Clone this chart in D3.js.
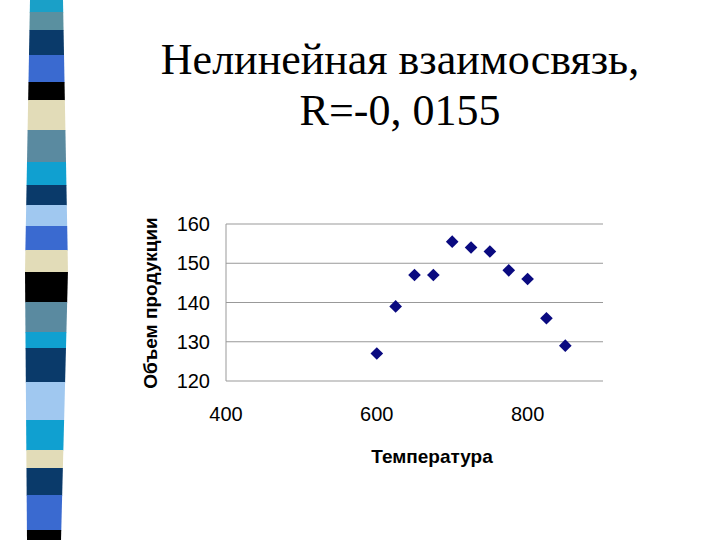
<!DOCTYPE html>
<html><head><meta charset="utf-8">
<script src="https://cdn.jsdelivr.net/npm/d3@7"></script>
<style>body{margin:0;background:#fff}</style></head>
<body><svg id="c" width="720" height="540"></svg>
<script>
const temps = [600,625,650,675,700,725,750,775,800,825,850];
const volumes = [127,139,147,147,155.5,154,153,148.2,146,136,129];
const xTicks = [400,600,800];
const yTicks = [120,130,140,150,160];
const stripeStops = [0,12,30,55,82,100,130,162,185,205,226,250,272,302,332,348,382,420,450,468,495,530,540];
const stripeColors = ["#1aa0c8","#5a90a0","#0a3a6a","#3a6ad0","#000000","#e2dcb8","#5a8aa0","#10a0d0","#0a3a6a","#a0c8f0","#3a6ad0","#e2dcb8","#000000","#5a8aa0","#10a0d0","#0a3a6a","#a0c8f0","#10a0d0","#e2dcb8","#0a3a6a","#3a6ad0","#000000"];

const svg = d3.select("#c");
const sy = d3.scaleLinear().domain([0,540]).range([0,540]);
const left = d3.scaleLinear().domain([0,270,540]).range([30,25,27]);
const right = d3.scaleLinear().domain([0,270,540]).range([63,68,61]);
stripeColors.forEach((c,i)=>{
  const a=stripeStops[i], b=stripeStops[i+1];
  svg.append("polygon").attr("fill",c)
    .attr("points",[[left(a),sy(a)],[right(a),sy(a)],[right(b),sy(b)+0.5],[left(b),sy(b)+0.5]].join(" "));
});
svg.append("text").attr("x",400).attr("y",74).attr("text-anchor","middle")
  .attr("font-family","Liberation Serif").attr("font-size",44).text("Нелинейная взаимосвязь,");
svg.append("text").attr("x",400).attr("y",125).attr("text-anchor","middle")
  .attr("font-family","Liberation Serif").attr("font-size",44).attr("xml:space","preserve").text("R=-0, 0155");

const x = d3.scaleLinear().domain([400,900]).range([226,603]);
const y = d3.scaleLinear().domain([120,160]).range([381,224]);
const g = svg.append("g");
g.selectAll("line.grid").data(yTicks).join("line")
  .attr("x1",226).attr("x2",603).attr("y1",d=>y(d)).attr("y2",d=>y(d))
  .attr("stroke","#999").attr("stroke-width",1);
g.append("line").attr("x1",226).attr("x2",226).attr("y1",y(160)).attr("y2",y(120)).attr("stroke","#999");
g.selectAll("text.yt").data(yTicks).join("text")
  .attr("x",210).attr("y",d=>y(d)+7).attr("text-anchor","end")
  .attr("font-family","Liberation Sans").attr("font-size",20).text(d=>d);
g.selectAll("text.xt").data(xTicks).join("text")
  .attr("x",d=>x(d)).attr("y",421).attr("text-anchor","middle")
  .attr("font-family","Liberation Sans").attr("font-size",20).text(d=>d);
g.selectAll("path.pt").data(temps).join("path")
  .attr("d",d3.symbol(d3.symbolSquare,80)())
  .attr("transform",(d,i)=>`translate(${x(d)},${y(volumes[i])}) rotate(45)`)
  .attr("fill","#0a0a80");
svg.append("text").attr("x",432).attr("y",463).attr("text-anchor","middle")
  .attr("font-family","Liberation Sans").attr("font-weight","bold").attr("font-size",19).text("Температура");
svg.append("text").attr("transform","translate(157,303) rotate(-90)").attr("text-anchor","middle")
  .attr("font-family","Liberation Sans").attr("font-weight","bold").attr("font-size",19).text("Объем продукции");
</script></body></html>
